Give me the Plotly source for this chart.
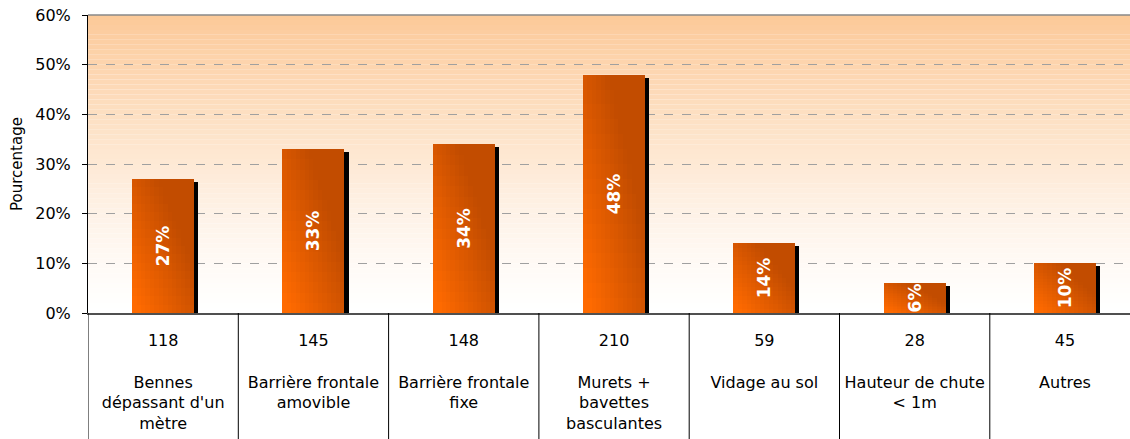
import plotly.graph_objects as go

categories = ["Bennes<br>dépassant d'un<br>mètre", "Barrière frontale<br>amovible",
              "Barrière frontale<br>fixe", "Murets +<br>bavettes<br>basculantes",
              "Vidage au sol", "Hauteur de chute<br>< 1m", "Autres"]
counts = [118, 145, 148, 210, 59, 28, 45]
percentages = [27, 33, 34, 48, 14, 6, 10]
y_ticks = [0, 10, 20, 30, 40, 50, 60]
y_tick_labels = ["0%", "10%", "20%", "30%", "40%", "50%", "60%"]

keys = list(range(len(categories)))
tick_text = [f"{c}<br><br>{lab}" for c, lab in zip(counts, categories)]

BAR_W = 0.4125
NX, NY = 14, 16
FONT = "DejaVu Sans"

def mix(a, b, w):
    return "rgb(%d,%d,%d)" % tuple(round(a[k] * w + b[k] * (1 - w)) for k in range(3))

BRIGHT = (255, 106, 0)
DARK = (194, 76, 0)

fig = go.Figure()

# shadow
fig.add_trace(go.Bar(
    x=keys, y=[p - 0.6 for p in percentages], width=BAR_W, offset=-BAR_W / 2 + 0.027,
    marker=dict(color="black", line=dict(width=0)), hoverinfo="skip", showlegend=False))

# gradient bar body (overlapping cells, each extends to the top-right of the bar)
for i in range(NX):
    t = (i + 0.5) / NX
    for j in range(NY):
        s = (j + 0.5) / NY
        w = max(0.0, min(1.0, 1.1 - 0.85 * t - 0.75 * s))
        fig.add_trace(go.Bar(
            x=keys, y=[p * (1 - j / NY) for p in percentages],
            base=[p * j / NY for p in percentages],
            width=BAR_W * (1 - i / NX), offset=-BAR_W / 2 + BAR_W * i / NX,
            marker=dict(color=mix(BRIGHT, DARK, w), line=dict(width=0)),
            hoverinfo="skip", showlegend=False))

# labels
fig.add_trace(go.Bar(
    x=keys, y=percentages, width=BAR_W,
    marker=dict(color="rgba(0,0,0,0)", line=dict(width=0)),
    text=[f"{p}%" for p in percentages], textposition="inside",
    insidetextanchor="middle", textangle=-90,
    textfont=dict(family=FONT, size=17, color="white", weight="bold"),
    hoverinfo="skip", showlegend=False))

# background gradient
shapes = []
NB = 60
top = (252, 201, 152)
for k in range(NB):
    f = ((k + 0.5) / NB) ** 1.3
    shapes.append(dict(type="rect", xref="paper", yref="paper", x0=0, x1=1,
                       y0=k / NB, y1=(k + 1) / NB, layer="below",
                       fillcolor=mix(top, (255, 255, 255), f), line=dict(width=0)))
# top border
shapes.append(dict(type="line", xref="paper", yref="paper", x0=0, x1=1, y0=1, y1=1,
                   line=dict(color="#888888", width=1.5)))
# table separators
for k in range(len(keys) + 1):
    shapes.append(dict(type="line", xref="x", yref="paper", x0=k - 0.5, x1=k - 0.5,
                       y0=-0.45, y1=0, line=dict(color="black", width=1)))

fig.update_layout(
    width=1130, height=439,
    margin=dict(l=88, r=0, t=15, b=126),
    barmode="overlay", bargap=0,
    plot_bgcolor="white", paper_bgcolor="white",
    font=dict(family=FONT, size=16, color="black"),
    shapes=shapes,
    uniformtext=dict(minsize=17, mode="show"),
    xaxis=dict(type="linear", range=[-0.5, -0.5 + 1042 / 150.3],
               tickmode="array", tickvals=keys, ticktext=tick_text,
               showline=True, linecolor="#505050", linewidth=1.5,
               showgrid=False, zeroline=False, ticks="", ticklabelstandoff=12,
               tickfont=dict(family=FONT, size=16, color="black")),
    yaxis=dict(range=[0, 60], tickmode="array", tickvals=y_ticks, ticktext=y_tick_labels,
               showline=True, linecolor="black", linewidth=1,
               ticks="outside", ticklen=5, tickcolor="black",
               showgrid=True, gridcolor="#A0A0A0", griddash="dash", gridwidth=1,
               zeroline=False, ticklabelstandoff=8,
               tickfont=dict(family=FONT, size=16, color="black"),
               title=dict(text="Pourcentage", standoff=8,
                          font=dict(family=FONT, size=15, color="black"))),
)

fig.write_html("out.html")
